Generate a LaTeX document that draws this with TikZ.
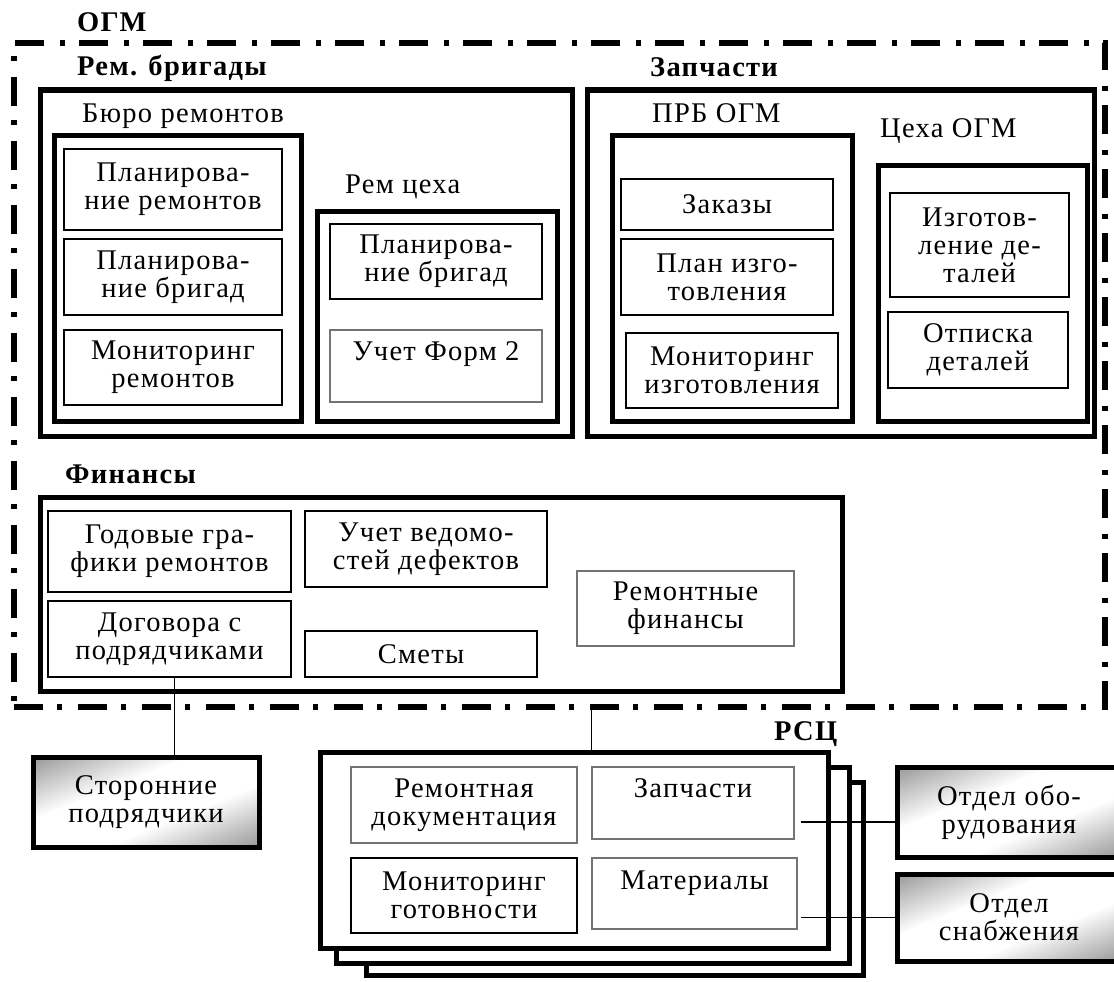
\documentclass[tikz,border=0pt]{standalone}
\usepackage{fontspec}
\setmainfont{Liberation Serif}[LetterSpace=4.5]
\newcommand\ogmfont{\fontsize{28.5}{28}\selectfont}
\pgfdeclareverticalshading{cornershade}{100bp}{color(0bp)=(black!72); color(40bp)=(white); color(60bp)=(white); color(100bp)=(black!72)}
\begin{document}
\begin{tikzpicture}[x=1pt,y=-1pt,font=\ogmfont]
	\tikzset{wh/.style 2 args = {minimum width=#1pt,minimum height=#2pt}}
	\tikzset{ogmline/.style = {draw,line width=6pt,dash pattern=on 29pt off 14pt on 5pt off 16pt,inner sep=0pt}}
	\tikzset{bigbox/.style = {draw,line width=5pt,fill=white,inner sep=0pt}}
	\tikzset{item/.style = {draw,line width=1.3pt,align=center,inner sep=0pt}}
	\tikzset{grayitem/.style = {item,draw=black!55}}
	\tikzset{outside/.style = {draw,line width=5pt,align=center,inner sep=0pt,shade,shading=cornershade,shading angle=22}}
	\tikzset{caption/.style = {anchor=base west,inner sep=0pt}}
	\tikzset{heading/.style = {caption,font=\ogmfont\bfseries}}
	\tikzset{lifted/.style = {text depth=#1}}
	\tikzset{link/.style = {draw,line width=1.3pt}}
	\useasboundingbox (0,0) rectangle (1114,982);
	% OGM
	\node[ogmline,wh={1091}{664}] (ogm) at (559.5,375) {};
	\node[heading] (togm) at (77,32) {ОГМ};
	\node[heading] (tbrig) at (77,76) {Рем. бригады};
	\node[heading] (tzap) at (650,77) {Запчасти};
	\node[heading] (tfin) at (65,483) {Финансы};
	\node[bigbox,wh={532}{346}] (brig) at (306,263) {};
	\node[bigbox,wh={507}{346}] (zap) at (840.5,263) {};
	\node[bigbox,wh={247}{286}] (buro) at (177.5,278) {};
	\node[bigbox,wh={240}{210}] (cekh) at (437,316) {};
	\node[bigbox,wh={240}{286}] (prb) at (732,278) {};
	\node[bigbox,wh={209}{256}] (cogm) at (982.5,293) {};
	\node[caption] (tburo) at (82,122) {Бюро ремонтов};
	\node[caption] (tcekh) at (345,193) {Рем цеха};
	\node[caption] (tprb) at (652,122) {ПРБ ОГМ};
	\node[caption] (tcogm) at (880,137) {Цеха ОГМ};
	\node[item,wh={218}{81}] (p1) at (173,189.5) {Планирова-\\ние ремонтов};
	\node[item,wh={218}{76}] (p2) at (173,277) {Планирова-\\ние бригад};
	\node[item,wh={218}{75}] (p3) at (173,367.5) {Мониторинг\\ремонтов};
	\node[item,wh={212}{75}] (c1) at (436,261.5) {Планирова-\\ние бригад};
	\node[grayitem,wh={212}{72},lifted=29pt] (c2) at (436,366) {Учет Форм 2};
	\node[item,wh={212}{51}] (z1) at (727,204.5) {Заказы};
	\node[item,wh={212}{76}] (z2) at (727,277) {План изго-\\товления};
	\node[item,wh={212}{75}] (z3) at (732,370.5) {Мониторинг\\изготовления};
	\node[item,wh={179}{104}] (t1) at (979.5,245) {Изготов-\\ление де-\\талей};
	\node[item,wh={180}{76}] (t2) at (978,350) {Отписка\\деталей};
	% finance
	\node[bigbox,wh={802}{194}] (fin) at (441,594) {};
	\node[item,wh={243}{81}] (f1) at (169.5,551.5) {Годовые гра-\\фики ремонтов};
	\node[item,wh={243}{76}] (f2) at (169.5,639) {Договора с\\подрядчиками};
	\node[item,wh={242}{76}] (f3) at (426,549) {Учет ведомо-\\стей дефектов};
	\node[item,wh={232}{46}] (f4) at (421,654) {Сметы};
	\node[grayitem,wh={217}{75}] (f5) at (685.5,608.5) {Ремонтные\\финансы};
	% RSC
	\node[bigbox,wh={497}{193}] (rsc3) at (614.5,878.5) {};
	\node[bigbox,wh={513}{196}] (rsc2) at (592.5,865) {};
	\node[bigbox,wh={508}{196}] (rsc1) at (574,850) {};
	\node[heading] (trsc) at (774,740) {РСЦ};
	\node[grayitem,wh={226}{76}] (r1) at (464,805) {Ремонтная\\документация};
	\node[item,wh={226}{75}] (r2) at (464,895.5) {Мониторинг\\готовности};
	\node[grayitem,wh={202}{72},lifted=29pt] (r3) at (693,803) {Запчасти};
	\node[grayitem,wh={205}{71},lifted=27pt] (r4) at (694.5,893.5) {Материалы};
	% outside
	\node[outside,wh={226}{90}] (side) at (146,802) {Сторонние\\подрядчики};
	\node[outside,wh={224}{90}] (otd1) at (1009,812) {Отдел обо-\\рудования};
	\node[outside,wh={224}{87}] (otd2) at (1009,917.5) {Отдел\\снабжения};
	\coordinate (k1) at ([xshift=5pt]f2.south);
	\coordinate (k3) at ([shift={(6pt,-19pt)}]r3.east);
	\coordinate (k4) at ([shift={(3pt,-24pt)}]r4.east);
	\path[link] (k1) -- (k1 |- side.north);
	\path[link] (r3.west |- ogm.south) -- (r3.west |- rsc1.north);
	\path[link] (k3) -- (k3 -| otd1.west);
	\path[link] (k4) -- (k4 -| otd2.west);
\end{tikzpicture}
\end{document}
